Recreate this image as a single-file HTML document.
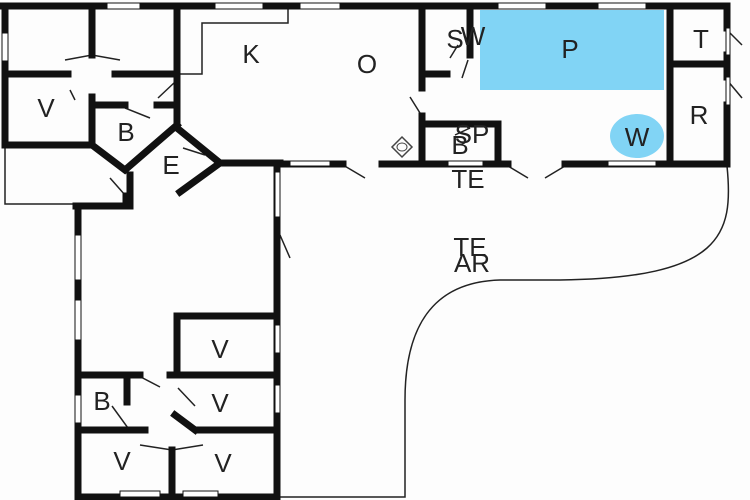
<!DOCTYPE html>
<html><head><style>body{margin:0;background:#fff}svg{display:block}text{font-family:"Liberation Sans",sans-serif;font-size:26px;fill:#222;text-anchor:middle}</style></head><body>
<svg width="750" height="500" viewBox="0 0 750 500" xmlns="http://www.w3.org/2000/svg">
<rect width="750" height="500" fill="#fdfdfd"/>
<rect x="480" y="10" width="184" height="80" fill="#81d4f5"/>
<ellipse cx="637" cy="136" rx="27" ry="22" fill="#81d4f5"/>
<g fill="none" stroke="#222" stroke-width="1.5">
<path d="M288,6 V23 H202 V74 H178"/>
<path d="M5,145 V204 H76"/>
<path d="M727,166 C734,235 722,278 560,280 L500,280 C430,282 405,330 405,400 V497 H277"/>
<path d="M65,60 L92,55 L120,60 M70,90 L75,100 M150,118 L125,108 M158,98 L175,82 M183,148 L205,155 M110,178 L125,195 M343,165 L365,178 M410,97 L420,113 M508,166 L528,178 M565,166 L545,178 M280,235 L290,258 M450,58 L458,45 M462,78 L468,60 M455,135 L470,128 M727,30 L742,45 M727,80 L742,98 M137,375 L160,387 M178,388 L195,406 M112,406 L128,428 M140,445 L172,450 L203,445"/>
</g>
<g stroke="#111" fill="none" stroke-width="7" stroke-linecap="square">
<path d="M2,6 H727"/>
<path d="M5,6 V145"/>
<path d="M92,6 V55 M177,6 V125"/>
<path d="M5,74 H68 M115,74 H177"/>
<path d="M5,145 H92 L125,170 L177,125"/>
<path d="M92,97 V145 M92,105 H125 M157,105 H177"/>
<path d="M177,128 L220,163 L180,192 M220,163 H280"/>
<path d="M76,206 H130 V175 M126,206 V196"/>
<path d="M78,206 V497 H277 V166"/>
<path d="M177,316 V372 M177,316 H277"/>
<path d="M78,375 H140 M170,375 H277"/>
<path d="M127,375 V402 M78,430 H145 M198,430 H277 M175,415 L195,430"/>
<path d="M172,450 V497"/>
<path d="M280,164 H343 M382,164 H508 M565,164 H727"/>
<path d="M422,6 V88 M422,116 V164 M422,74 H447 M470,6 V55"/>
<path d="M422,124 H498 V164"/>
<path d="M670,6 V164 M670,64 H727 M727,6 V28 M727,55 V77 M727,105 V164"/>
</g>
<g fill="#fff" stroke="#111" stroke-width="1">
<rect x="107" y="3" width="33" height="6"/><rect x="215" y="3" width="48" height="6"/><rect x="300" y="3" width="40" height="6"/>
<rect x="498" y="3" width="48" height="6"/><rect x="598" y="3" width="48" height="6"/>
<rect x="2" y="33" width="6" height="28"/>
<rect x="275" y="172" width="5" height="45"/><rect x="275" y="325" width="5" height="28"/><rect x="275" y="385" width="5" height="28"/>
<rect x="75" y="235" width="6" height="45"/><rect x="75" y="300" width="6" height="40"/><rect x="75" y="395" width="6" height="28"/>
<rect x="120" y="491" width="40" height="6"/><rect x="183" y="491" width="35" height="6"/>
<rect x="290" y="161" width="40" height="5"/><rect x="448" y="161" width="35" height="5"/><rect x="608" y="161" width="48" height="5"/>
<rect x="726" y="28" width="4" height="27"/><rect x="726" y="77" width="4" height="28"/>
</g>
<path d="M402,137 L412,147 L402,157 L392,147 Z" fill="none" stroke="#444" stroke-width="1.5"/>
<ellipse cx="402" cy="147" rx="5" ry="4" fill="none" stroke="#444"/>
<text x="251" y="63">K</text><text x="367" y="73">O</text><text x="455" y="48">S</text><text x="473" y="45">W</text>
<text x="570" y="58">P</text><text x="701" y="48">T</text><text x="699" y="124">R</text><text x="637" y="146">W</text>
<text x="472" y="143">SP</text><text x="460" y="154">B</text><text x="468" y="188">TE</text>
<text x="470" y="256">TE</text><text x="472" y="272">AR</text>
<text x="46" y="117">V</text><text x="126" y="141">B</text><text x="171" y="174">E</text>
<text x="220" y="358">V</text><text x="102" y="410">B</text><text x="220" y="412">V</text><text x="122" y="470">V</text><text x="223" y="472">V</text>
</svg>
</body></html>
